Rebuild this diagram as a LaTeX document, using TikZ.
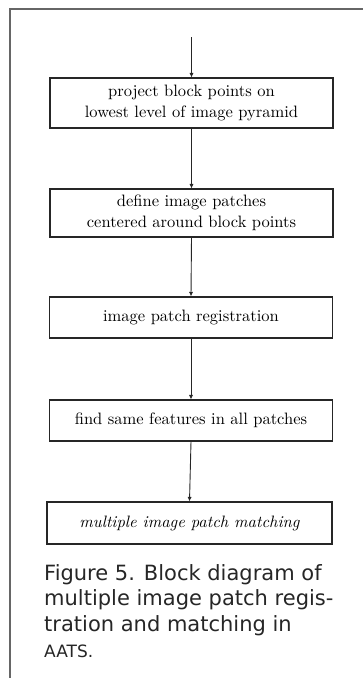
\documentclass[tikz,border=0pt]{standalone}
\usepackage{fontspec}
\newfontfamily\capfont{DejaVu Sans}
\newfontfamily\boxfont{lmroman10-regular.otf}[ItalicFont=lmroman10-italic.otf]
\usetikzlibrary{arrows.meta}
\tikzset{
  stepbox/.style={draw=black!85, line width=1.1pt, minimum width=283pt,
    align=center, inner sep=0pt, font=\boxfont\fontsize{16.5}{20.5}\selectfont, text=black},
  flow/.style={draw=black!85, line width=0.9pt, -{Latex[length=4.5pt,width=4.2pt]}},
  frame/.style={draw=black!60, line width=1.6pt},
}
\begin{document}
\begin{tikzpicture}[x=1pt, y=-1pt]
  \useasboundingbox (0,0) rectangle (363,678);
  % open frame: top edge and left edge
  \draw[frame] (363,9) -- (10,9) -- (10,678);

  \coordinate (start) at (191.5,37);
  \node[stepbox, minimum height=50pt] (b1) at (191.5,103)
    {project block points on\\lowest level of image pyramid};
  \node[stepbox, minimum height=48pt] (b2) at (191.5,213)
    {define image patches\\centered around block points};
  \node[stepbox, minimum height=41pt] (b3) at (191,317.5)
    {image patch registration};
  \node[stepbox, minimum height=41pt] (b4) at (191,420.5)
    {find same features in all patches};
  \node[stepbox, minimum height=42pt, minimum width=285pt] (b5) at (189.5,523)
    {\itshape multiple image patch matching};

  \draw[flow] (start) -- (b1.north);
  \draw[flow] (b1.south) -- (b2.north);
  \draw[flow] (b2.south) -- (b3.north);
  \draw[flow] (b3.south) -- (b4.north);
  \draw[flow] (b4.south) -- (b5.north);

  \node[anchor=north west, inner sep=0pt, align=left, text=black!85,
        font=\capfont\fontsize{21}{25.8}\selectfont] (cap) at (44,564)
    {Figure 5. Block diagram of\\multiple image patch regis-\\tration and matching in\\{\fontsize{17}{25.8}\selectfont AATS.}};
\end{tikzpicture}
\end{document}
